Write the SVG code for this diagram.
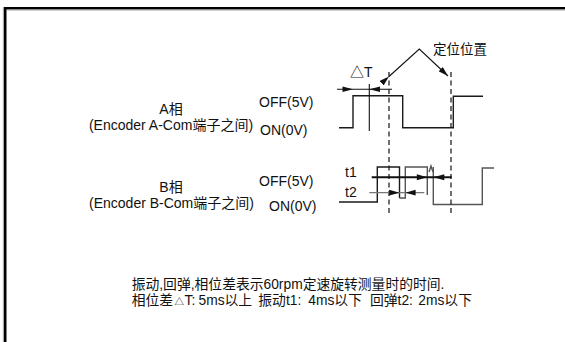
<svg xmlns="http://www.w3.org/2000/svg" width="565" height="342" viewBox="0 0 565 342">
<style>
text{font-family:"Liberation Sans","Noto Sans CJK SC",sans-serif;fill:#111}
.lbl{font-size:14px}
.note{font-size:13.8px}
.wave{fill:none;stroke:#1a1a1a;stroke-width:1.4}
.waveg{fill:none;stroke:#555;stroke-width:1.4}
.dash{stroke:#111;stroke-width:1.2;stroke-dasharray:5 3.5}
.dim{stroke:#111;stroke-width:1.1;fill:none}
.dimg{stroke:#777;stroke-width:1.3;fill:none}
.head{fill:#111;stroke:none}
</style>
<defs>
<marker id="arr" markerUnits="userSpaceOnUse" markerWidth="10" markerHeight="6" refX="10" refY="3" orient="auto">
<path d="M0,0 L10,3 L0,6 z" fill="#111"/>
</marker>
</defs>
<rect width="565" height="342" fill="#fff"/>
<g id="frame">
<path d="M5.2,342 V8.2 H565" fill="none" stroke="#000" stroke-width="2.6"/>
<path d="M3.4,342 V7" fill="none" stroke="#999" stroke-width="0.9"/>
<path d="M6.6,10 H565" fill="none" stroke="#999" stroke-width="0.9"/>
</g>
<g id="labelA">
<text class="lbl" x="171" y="114.3" text-anchor="middle">A相</text>
<text class="lbl" x="171" y="130" text-anchor="middle">(Encoder A-Com端子之间)</text>
<text class="lbl" x="259" y="106.7">OFF(5V)</text>
<text class="lbl" x="260" y="135">ON(0V)</text>
</g>
<g id="labelB">
<text class="lbl" x="171" y="191.7" text-anchor="middle">B相</text>
<text class="lbl" x="171.5" y="208.3" text-anchor="middle">(Encoder B-Com端子之间)</text>
<text class="lbl" x="259" y="186">OFF(5V)</text>
<text class="lbl" x="269" y="210.7">ON(0V)</text>
</g>
<g id="waveA">
<polyline class="wave" points="339,127.8 353,127.8 353,95.7 402.7,95.7 402.7,127.8 453.3,127.8 453.3,96.3 483,96.3"/>
</g>
<g id="waveB">
<polyline class="wave" points="339,202 377.3,202 377.3,167 399.5,167 399.5,198"/>
<polyline class="waveg" points="399.5,198 405.3,198 405.3,167 427.3,167 427.3,195"/>
<polyline class="waveg" points="429,172 431,166 433,172" stroke-width="1.1"/>
<polyline class="waveg" points="433.3,167 433.3,204.5 482.3,204.5 482.3,168 494,168"/>
</g>
<g id="positions">
<line class="dash" x1="389" y1="72" x2="389" y2="214"/>
<line class="dash" x1="451" y1="72" x2="451" y2="214"/>
<text class="lbl" x="433" y="54" style="font-size:13.5px">定位位置</text>
</g>
<g id="labels-dim">
<text class="lbl" x="350" y="76.7">△T</text>
<text class="lbl" x="345" y="177">t1</text>
<text class="lbl" x="345" y="197">t2</text>
</g>
<g id="connectors">
<polyline fill="none" stroke="#111" stroke-width="1.1" points="389,76.5 419.3,49 448,76" marker-start="url(#arr)" marker-end="url(#arr)"/>
<line class="dim" x1="337" y1="89.3" x2="392" y2="89.3"/>
<polygon class="head" points="353,89.3 342.5,86.5 342.5,92.1"/>
<polygon class="head" points="369.3,89.3 380,86.5 380,92.1"/>
<line class="dim" x1="369.3" y1="84" x2="369.3" y2="131"/>
<line x1="371.7" y1="177.2" x2="451.7" y2="177.2" stroke="#111" stroke-width="1.9"/>
<polygon class="head" points="427.3,177.2 416.8,174.2 416.8,180.2"/>
<polygon class="head" points="433.5,177.2 444.3,174.2 444.3,180.2"/>
<line class="dimg" x1="369.3" y1="192.7" x2="424.3" y2="192.7"/>
<polygon class="head" points="399.5,192.7 389.2,189.8 389.2,195.6"/>
<polygon class="head" points="405.3,192.7 415.6,189.8 415.6,195.6"/>
</g>
<g id="note">
<text class="note" x="131.7" y="289">振动,回弹,相位差表示60rpm定速旋转测量时的时间.</text>
<text class="note" y="304.5"><tspan x="131.7">相位差</tspan><tspan x="174.5" font-size="9.5px">△</tspan><tspan x="184.5">T:</tspan><tspan x="198.5">5ms以上</tspan><tspan x="258.3">振动t1:</tspan><tspan x="308.3">4ms以下</tspan><tspan x="370">回弹t2:</tspan><tspan x="418.3">2ms以下</tspan></text>
</g>
</svg>
